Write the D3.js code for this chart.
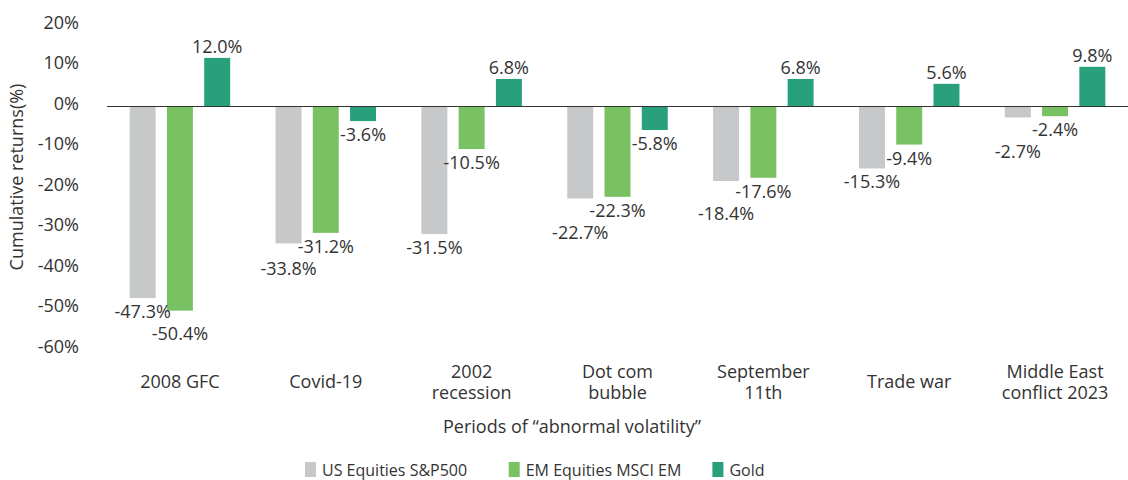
<!DOCTYPE html>
<html>
<head>
<meta charset="utf-8">
<script src="https://cdn.jsdelivr.net/npm/d3@7"></script>
<style>
  html, body { margin: 0; padding: 0; background: #ffffff; }
  svg { display: block; font-family: "Open Sans", "Noto Sans", sans-serif; }
</style>
</head>
<body>
<div id="grafico"></div>
<script>
// --- DATOS ---
// Periodos (el "\n" marca el salto de línea de la etiqueta)
const periodos = ["2008 GFC", "Covid-19", "2002\nrecession", "Dot com\nbubble",
                  "September\n11th", "Trade war", "Middle East\nconflict 2023"];
const series = ["US Equities S&P500", "EM Equities MSCI EM", "Gold"];
const valoresSP500 = [-47.3, -33.8, -31.5, -22.7, -18.4, -15.3, -2.7];
const valoresMSCIEM = [-50.4, -31.2, -10.5, -22.3, -17.6, -9.4, -2.4];
const valoresOro = [12.0, -3.6, 6.8, -5.8, 6.8, 5.6, 9.8];
const ticksY = [20, 10, 0, -10, -20, -30, -40, -50, -60];
const colores = ["#c7c8ca", "#79c263", "#27a07b"];

// --- LIENZO ---
const ancho = 1128, alto = 480;
const colorTexto = "#333333";

const svg = d3.select("#grafico").append("svg")
    .attr("width", ancho)
    .attr("height", alto);

// --- ESCALAS ---
const x = d3.scaleBand().domain(periodos).range([107, 1128]).padding(0);
const xInterna = d3.scaleBand().domain(series).range([0, x.bandwidth()])
    .paddingInner(0.303).paddingOuter(0.609);
const y = d3.scaleLinear().domain([-60, 20]).range([349.5, 25.5]);

// Tabla de datos por serie
const valoresPorSerie = [valoresSP500, valoresMSCIEM, valoresOro];
const datos = [];
periodos.forEach((p, i) => {
    series.forEach((s, j) => {
        datos.push({ periodo: p, serie: s, valor: valoresPorSerie[j][i], idx: j });
    });
});

// --- EJE Y (solo etiquetas) ---
svg.append("g").selectAll("text")
    .data(ticksY)
    .enter().append("text")
    .attr("x", 79)
    .attr("y", d => y(d) + 3)
    .attr("text-anchor", "end")
    .style("font-size", "18px")
    .style("fill", colorTexto)
    .text(d => d + "%");

// Título del eje Y
svg.append("text")
    .attr("transform", "translate(23,177) rotate(-90)")
    .attr("text-anchor", "middle")
    .style("font-size", "18px")
    .style("fill", colorTexto)
    .text("Cumulative returns(%)");

// --- BARRAS ---
svg.append("g").selectAll("rect")
    .data(datos)
    .enter().append("rect")
    .attr("x", d => x(d.periodo) + xInterna(d.serie))
    .attr("y", d => Math.min(y(d.valor), y(0)))
    .attr("width", xInterna.bandwidth())
    .attr("height", d => Math.abs(y(d.valor) - y(0)))
    .attr("fill", d => colores[d.idx]);

// Línea del cero
svg.append("line")
    .attr("x1", 107).attr("x2", 1128)
    .attr("y1", y(0)).attr("y2", y(0))
    .attr("stroke", "#333333")
    .attr("stroke-width", 1.2);

// --- ETIQUETAS DE VALOR ---
const etiquetas = svg.append("g").selectAll("text")
    .data(datos)
    .enter().append("text")
    .attr("x", d => x(d.periodo) + xInterna(d.serie) + xInterna.bandwidth() / 2)
    .attr("text-anchor", "middle")
    .style("font-size", "18px")
    .style("fill", colorTexto)
    .text(d => d.valor.toFixed(1) + "%");

// Posición natural: encima si es positivo, debajo si es negativo
etiquetas.each(function(d) {
    d.cx = x(d.periodo) + xInterna(d.serie) + xInterna.bandwidth() / 2;
    d.w = this.getComputedTextLength();
    d.base = d.valor >= 0 ? y(d.valor) - 5 : y(d.valor) + 20;
});

// Evitar que se encimen las etiquetas negativas dentro de un mismo periodo
periodos.forEach(p => {
    const grupo = datos.filter(d => d.periodo === p && d.valor < 0)
        .sort((a, b) => a.base - b.base);
    const colocadas = [];
    grupo.forEach(d => {
        colocadas.forEach(o => {
            const solapaX = Math.abs(d.cx - o.cx) < (d.w + o.w) / 2;
            if (solapaX && d.base < o.base + 22) d.base = o.base + 22;
        });
        colocadas.push(d);
    });
});

etiquetas.attr("y", d => d.base);

// --- ETIQUETAS DE CATEGORÍA ---
const cats = svg.append("g").selectAll("text")
    .data(periodos)
    .enter().append("text")
    .attr("text-anchor", "middle")
    .style("font-size", "18px")
    .style("fill", colorTexto);

cats.each(function(p) {
    const lineas = p.split("\n");
    const cx = x(p) + x.bandwidth() / 2;
    lineas.forEach((l, i) => {
        d3.select(this).append("tspan")
            .attr("x", cx)
            .attr("y", 388 + (i - (lineas.length - 1) / 2) * 21)
            .text(l);
    });
});

// Título del eje X
svg.append("text")
    .attr("x", 572)
    .attr("y", 433)
    .attr("text-anchor", "middle")
    .style("font-size", "18px")
    .style("fill", colorTexto)
    .text("Periods of “abnormal volatility”");

// --- LEYENDA ---
const leyenda = svg.append("g").selectAll("g")
    .data(series)
    .enter().append("g")
    .attr("transform", (d, i) => `translate(${305 + i * 203.7},462)`);

leyenda.append("rect")
    .attr("width", 11)
    .attr("height", 15)
    .attr("fill", (d, i) => colores[i]);

leyenda.append("text")
    .attr("x", 17)
    .attr("y", 13.5)
    .style("font-size", "16px")
    .style("fill", colorTexto)
    .text(d => d);
</script>
</body>
</html>
